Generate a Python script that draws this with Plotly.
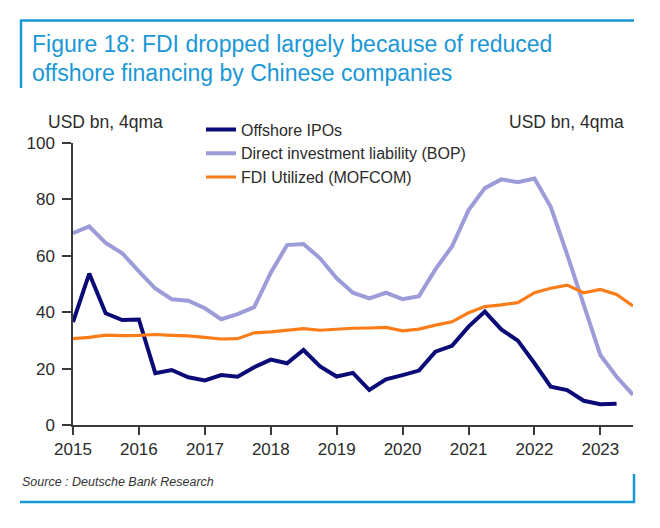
import plotly.graph_objects as go

# ---------------- data (USD bn, 4-quarter moving average) ----------------
quarters = [f"{y}-{m:02d}-01" for y in range(2015, 2024) for m in (1, 4, 7, 10)][:35]

offshore_ipos = [36.5, 53.7, 39.6, 37.2, 37.4, 18.4, 19.5, 16.9, 15.8, 17.7, 17.1, 20.5,
                 23.2, 21.9, 26.6, 20.8, 17.2, 18.5, 12.4, 16.2, 17.7, 19.3, 26.0, 28.1,
                 34.9, 40.2, 33.9, 29.9, 21.9, 13.6, 12.4, 8.6, 7.4, 7.5, None]

direct_inv_liab = [68.0, 70.4, 64.6, 60.9, 54.5, 48.4, 44.6, 44.1, 41.4, 37.5, 39.3, 41.8,
                   54.0, 63.8, 64.2, 59.1, 52.0, 46.9, 44.9, 46.9, 44.6, 45.7, 55.2, 63.3,
                   76.2, 84.0, 87.1, 86.1, 87.4, 77.4, 60.5, 42.5, 24.8, 17.1, 10.7]

fdi_utilized = [30.6, 31.1, 31.9, 31.7, 31.8, 32.1, 31.8, 31.6, 31.1, 30.5, 30.6, 32.7,
                33.0, 33.6, 34.2, 33.6, 34.0, 34.3, 34.4, 34.6, 33.4, 34.0, 35.4, 36.6,
                39.8, 42.0, 42.6, 43.4, 46.9, 48.5, 49.6, 46.9, 48.1, 46.3, 42.2]

series_names = ["Offshore IPOs", "Direct investment liability (BOP)", "FDI Utilized (MOFCOM)"]
series_colors = ["#0b0b78", "#9c9cd8", "#fb7d1a"]
series_widths = [4, 4, 3.2]

title_lines = ["Figure 18: FDI dropped largely because of reduced",
               "offshore financing by Chinese companies"]
unit_label = "USD bn, 4qma"
source_text = "Source : Deutsche Bank Research"
y_ticks = [0, 20, 40, 60, 80, 100]

# ---------------- layout geometry (page pixels) ----------------
OFF = 8                      # browser body margin offset
W, H = 660, 528
ML, MR, MT, MB = 73, 27, 143, 103      # plot-area edges in page pixels
FW, FH = W - OFF, H - OFF
PW, PH = W - ML - MR, H - MT - MB


def px(x):
    return (x - ML) / PW


def py(y):
    return 1 - (y - MT) / PH


FONT = "Liberation Sans, Arial, sans-serif"
BLUE = "#1a97d6"
TXT = "#2b2b2b"

fig = go.Figure()
for name, vals, col, w in zip(series_names,
                              [offshore_ipos, direct_inv_liab, fdi_utilized],
                              series_colors, series_widths):
    fig.add_trace(go.Scatter(x=quarters, y=vals, mode="lines", name=name,
                             line=dict(color=col, width=w), connectgaps=False))

fig.update_layout(
    width=FW, height=FH,
    margin=dict(l=ML - OFF, r=MR, t=MT - OFF, b=MB, pad=0),
    paper_bgcolor="white", plot_bgcolor="white",
    font=dict(family=FONT, color=TXT, size=17),
    showlegend=True,
    legend=dict(x=px(201), y=py(112.5), xanchor="left", yanchor="top",
                bgcolor="rgba(0,0,0,0)", font=dict(size=16, color=TXT),
                itemwidth=30, tracegroupgap=0),
    xaxis=dict(type="date", range=["2015-01-01", "2023-07-01"],
               dtick="M12", tick0="2015-01-01", tickformat="%Y",
               showgrid=False, zeroline=False,
               showline=True, linecolor="#3a3a3a", linewidth=1.5,
               ticks="outside", ticklen=8, tickwidth=1.5, tickcolor="#3a3a3a",
               tickfont=dict(size=17, color=TXT)),
    yaxis=dict(range=[0, 100], tickvals=y_ticks,
               showgrid=False, zeroline=False,
               showline=True, linecolor="#3a3a3a", linewidth=1.5,
               ticks="outside", ticklen=9, tickwidth=1.5, tickcolor="#3a3a3a",
               ticklabelstandoff=4,
               tickfont=dict(size=17, color=TXT)),
)

annotations = [
    dict(text=title_lines[0], x=px(30), y=py(44), xanchor="left", yanchor="middle",
         font=dict(size=23, color=BLUE)),
    dict(text=title_lines[1], x=px(30), y=py(73.5), xanchor="left", yanchor="middle",
         font=dict(size=23, color=BLUE)),
    dict(text=unit_label, x=px(46), y=py(121.5), xanchor="left", yanchor="middle",
         font=dict(size=17.5, color=TXT)),
    dict(text=unit_label, x=px(626), y=py(121.5), xanchor="right", yanchor="middle",
         font=dict(size=17.5, color=TXT)),
    dict(text="<i>" + source_text + "</i>", x=px(20), y=py(482), xanchor="left",
         yanchor="middle", font=dict(size=12.5, color="#333333")),
]
for a in annotations:
    a.update(xref="paper", yref="paper", showarrow=False)
fig.update_layout(annotations=annotations)

line_style = dict(color=BLUE, width=2.5)
shapes = [
    dict(type="line", x0=px(20), x1=px(634), y0=py(20.5), y1=py(20.5), line=line_style),
    dict(type="line", x0=px(21), x1=px(21), y0=py(20), y1=py(88), line=line_style),
    dict(type="line", x0=px(20), x1=px(635), y0=py(502), y1=py(502), line=line_style),
    dict(type="line", x0=px(634), x1=px(634), y0=py(474), y1=py(503), line=line_style),
]
for s in shapes:
    s.update(xref="paper", yref="paper", layer="above")
fig.update_layout(shapes=shapes)

fig.write_html("out.html")
